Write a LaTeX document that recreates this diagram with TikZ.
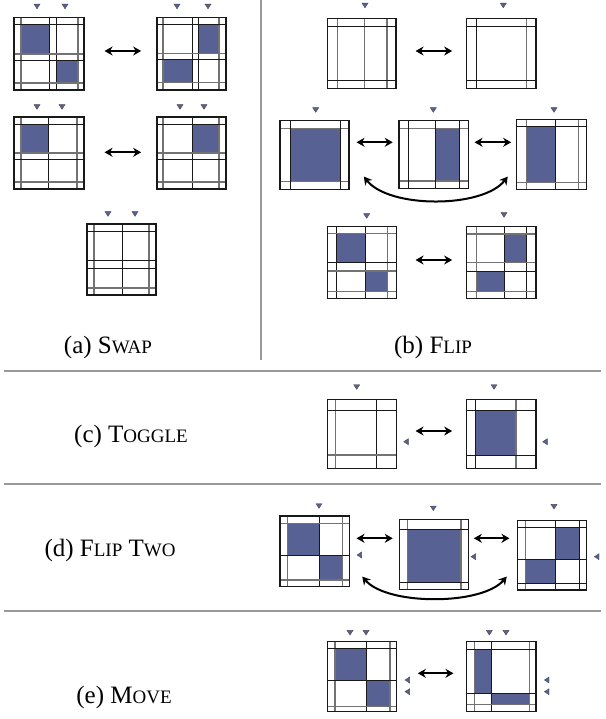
\documentclass[tikz,border=0pt]{standalone}
\usepackage{fontspec}
\setmainfont{Liberation Serif}
\usetikzlibrary{arrows.meta,calc,fit}
\definecolor{cellblue}{RGB}{88,97,148}
\newcommand\fsc[1]{{\fontsize{19}{22}\selectfont #1}}
\newcommand\gv[4]{\foreach \q in {#2} \draw[#1] (\q,#3) -- (\q,#4);}
\newcommand\gh[4]{\foreach \q in {#2} \draw[#1] (#3,\q) -- (#4,\q);}
\newcommand\gfill[4]{\fill[cellf] (#1,#2) rectangle (#3,#4);}
\newcommand\gbox[5]{\node[gframe, fit={(#2,#3) (#4,#5)}] (#1) {};}
\newcommand\tdn[2]{\filldraw[tri] (#1-3,#2-2.3) -- (#1+3,#2-2.3) -- (#1,#2+2.3) -- cycle;}
\newcommand\tlf[2]{\filldraw[tri] (#1-2.3,#2) -- (#1+2.3,#2-3) -- (#1+2.3,#2+3) -- cycle;}
\tikzset{
  gl/.style={draw=black!55, line width=1.4pt},
  bl/.style={draw=black!90, line width=1pt},
  gframe/.style={draw=black!90, line width=1.1pt, inner sep=0pt},
  cellf/.style={fill=cellblue},
  tri/.style={fill=cellblue, draw=black!70, line width=0.4pt},
  dar/.style={{Stealth[length=8pt,width=9pt]}-{Stealth[length=8pt,width=9pt]}, line width=2pt},
  divider/.style={draw=black!40, line width=1.8pt},
  captxt/.style={font=\fontsize{25}{30}\selectfont, inner sep=0pt}
}
\begin{document}
\begin{tikzpicture}[x=1pt,y=-1pt]
\useasboundingbox[fill=white] (0,0) rectangle (605,719);
% dividers
\draw[divider] (261,0) -- (261,360);
\draw[divider] (4,371) -- (601,371);
\draw[divider] (4,484) -- (601,484);
\draw[divider] (4,611) -- (601,611);

% ---------- (a) ----------
% a1
\gfill{21}{24.5}{49.5}{54}\gfill{56}{61}{78}{83}
\gv{gl}{21,78}{17.5}{90}\gv{bl}{49.5,56}{17.5}{90}
\gh{gl}{54,83}{14}{84}\gh{bl}{24.5,61}{14}{84}
\gbox{a1}{14}{17.5}{84}{90}
\tdn{37}{6.5}\tdn{65}{6.5}
% a2
\gfill{198}{24.5}{219}{53.5}\gfill{163}{60}{192}{82.5}
\gv{gl}{163,219}{17.5}{90}\gv{bl}{192,198}{17.5}{90}
\gh{gl}{53.5,82.5}{157}{226}\gh{bl}{24.5,60}{157}{226}
\gbox{a2}{157}{17.5}{226}{90}
\tdn{177}{6.5}\tdn{208}{6.5}
% a3
\gfill{21}{124.5}{48}{153}
\gv{gl}{21,77}{117}{189}\gv{bl}{48}{117}{189}
\gh{gl}{153,182}{14}{84}\gh{bl}{124.5,160}{14}{84}
\gbox{a3}{14}{117}{84}{189}
\tdn{37}{107}\tdn{62}{107}
% a4
\gfill{192}{124.5}{219}{153}
\gv{gl}{163,219}{117}{189}\gv{bl}{192}{117}{189}
\gh{gl}{153,182}{157}{226}\gh{bl}{124.5,160}{157}{226}
\gbox{a4}{157}{117}{226}{189}
\tdn{180}{107}\tdn{204}{107}
% a5
\gv{gl}{94,149}{224}{295}\gv{bl}{122}{224}{295}
\gh{gl}{288}{87}{156}\gh{bl}{231,260,268}{87}{156}
\gbox{a5}{87}{224}{156}{295}
\tdn{108}{214}\tdn{135}{214}

\draw[dar] ($(a1.east)+(20,-2.75)$) -- ($(a2.west)+(-15.3,-2.75)$);
\draw[dar] ($(a3.east)+(20,-0.7)$) -- ($(a4.west)+(-15.3,-0.7)$);

% ---------- (b) ----------
% b1
\gv{gl}{337.3,364.3,387}{18.3}{88.3}
\gh{bl}{26.7,81}{327.7}{396}
\gbox{b1}{327.7}{18.3}{396}{88.3}
\tdn{365}{5.5}
% b2
\gv{gl}{526.7}{18.3}{88.3}\gv{bl}{476.7}{18.3}{88.3}
\gh{bl}{26.7,81}{466.7}{536}
\gbox{b2}{466.7}{18.3}{536}{88.3}
\tdn{503.3}{5.5}
% b3
\gfill{290}{128.3}{340}{181.7}
\gh{gl}{128.3,181.7}{280}{349}
\gv{bl}{290,340}{120.7}{189.3}
\gbox{b3}{280}{120.7}{349}{189.3}
\tdn{315.7}{110}
% b4
\gfill{435.7}{128.3}{459}{181}
\gh{gl}{128.3,181}{399}{468.3}
\gv{bl}{408.3,435.7,459}{120.7}{188.8}
\gbox{b4}{399}{120.7}{468.3}{188.8}
\tdn{433.3}{110}
% b5
\gfill{526.7}{126.5}{555}{182.7}
\gv{gl}{526.7,578.3}{119.3}{189.3}\gv{bl}{555}{119.3}{189.3}
\gh{gl}{182.7}{516.7}{586.7}\gh{bl}{126.5}{516.7}{586.7}
\gbox{b5}{516.7}{119.3}{586.7}{189.3}
\tdn{554}{110}
% b6
\gfill{336.7}{233.5}{365}{262.3}\gfill{365}{271}{387.3}{291.7}
\gv{gl}{387.3}{226.7}{298.3}\gv{bl}{336.7,365}{226.7}{298.3}
\gh{gl}{233.5,271,291.7}{327.3}{396.7}\gh{bl}{262.3}{327.3}{396.7}
\gbox{b6}{327.3}{226.7}{396.7}{298.3}
\tdn{366.7}{216}
% b7
\gfill{504.3}{234}{526.7}{262.3}\gfill{476.7}{271}{504.3}{291.7}
\gv{gl}{476.7}{226.7}{298.3}\gv{bl}{504.3,526.7}{226.7}{298.3}
\gh{gl}{234,262.3,291.7}{466.7}{536}\gh{bl}{271}{466.7}{536}
\gbox{b7}{466.7}{226.7}{536}{298.3}
\tdn{504}{215}

\draw[dar] ($(b1.east)+(19,-2.3)$) -- ($(b2.west)+(-14,-2.3)$);
\draw[dar] ($(b3.east)+(7,-12.7)$) -- ($(b4.west)+(-5.7,-12.45)$);
\draw[dar] ($(b4.east)+(5.7,-12.45)$) -- ($(b5.west)+(-5,-12)$);
\draw[dar] ($(b3.south east)+(14.3,-13.3)$) .. controls ($(b3.south east)+(39.3,18.7)$) and ($(b5.south west)+(-33.4,18.7)$) .. ($(b5.south west)+(-8.4,-13.3)$);
\draw[dar] ($(b6.east)+(18.3,-2.5)$) -- ($(b7.west)+(-14,-2.5)$);

% ---------- (c) ----------
\gv{gl}{335.7}{399.3}{468.3}\gv{bl}{376}{399.3}{468.3}
\gh{gl}{455}{327.3}{396.7}\gh{bl}{410.7}{327.3}{396.7}
\gbox{c1}{327.3}{399.3}{396.7}{468.3}
\tdn{356.7}{387}\tlf{406}{441.7}
\gfill{475.7}{410.7}{516}{455}
\gv{gl}{516}{399.3}{468.3}\gv{bl}{475.7}{399.3}{468.3}
\gh{bl}{410.7,455}{466.7}{536}
\gbox{c2}{466.7}{399.3}{536}{468.3}
\tdn{494}{387}\tlf{545}{441.7}
\draw[dar] ($(c1.east)+(18.3,-2.8)$) -- ($(c2.west)+(-14,-2.8)$);

% ---------- (d) ----------
\gfill{287.3}{523.3}{319}{555}\gfill{319}{555}{342.7}{580}
\gv{gl}{287.3,342.7}{516}{586.7}\gv{bl}{319}{516}{586.7}
\gh{gl}{523.3,580}{280}{349.3}\gh{bl}{555}{280}{349.3}
\gbox{d1}{280}{516}{349.3}{586.7}
\tdn{319}{506}\tlf{359.3}{555}
\gfill{407.7}{529.3}{461}{582.7}
\gv{gl}{407.7,461}{519.3}{589.3}
\gh{bl}{529.3,582.7}{399.3}{468.3}
\gbox{d2}{399.3}{519.3}{468.3}{589.3}
\tdn{433.3}{508.3}\tlf{473.3}{556.7}
\gfill{555.7}{527.7}{579.3}{559}\gfill{525.7}{559}{555.7}{583.3}
\gv{gl}{525.7}{520.7}{590}\gv{bl}{555.7,579.3}{520.7}{590}
\gh{bl}{527.7,559,583.3}{517.7}{586.7}
\gbox{d3}{517.7}{520.7}{586.7}{590}
\tdn{554}{506.7}\tlf{596.7}{556.7}
\draw[dar] ($(d1.east)+(6.7,-13.05)$) -- ($(d2.west)+(-6,-16)$);
\draw[dar] ($(d2.east)+(5,-16)$) -- ($(d3.west)+(-7.7,-17.05)$);
\draw[dar] ($(d1.south east)+(12.4,-10.7)$) .. controls ($(d1.south east)+(37.4,18.3)$) and ($(d3.south west)+(-35.4,15)$) .. ($(d3.south west)+(-10.4,-14)$);

% ---------- (e) ----------
\gfill{335}{648.3}{366}{680.7}\gfill{366}{680.7}{390}{706.7}
\gv{gl}{335,390}{641.7}{711.7}\gv{bl}{366}{641.7}{711.7}
\gh{gl}{706.7}{327.3}{396.7}\gh{bl}{648.3,680.7}{327.3}{396.7}
\gbox{e1}{327.3}{641.7}{396.7}{711.7}
\tdn{350}{632.7}\tdn{366}{632.7}\tlf{407.3}{680}\tlf{407.3}{691.7}
\gfill{474.5}{649.5}{491}{693}\gfill{491}{693}{529.5}{704.5}
\gv{gl}{474.5,529.5}{641.7}{711.7}\gv{bl}{491}{641.7}{711.7}
\gh{gl}{704.5}{466.7}{536}\gh{bl}{649.5,693}{466.7}{536}
\gbox{e2}{466.7}{641.7}{536}{711.7}
\tdn{489.3}{632.7}\tdn{506}{632.7}\tlf{546.7}{680}\tlf{546.7}{691.7}
\draw[dar] ($(e1.east)+(20.6,-3.4)$) -- ($(e2.west)+(-12.7,-3.4)$);

% ---------- captions ----------
\node[captxt] (capa) at (108,347) {(a) S\fsc{WAP}};
\node[captxt] (capb) at (433,347) {(b) F\fsc{LIP}};
\node[captxt] (capc) at (131,436) {(c) T\fsc{OGGLE}};
\node[captxt] (capd) at (110,550) {(d) F\fsc{LIP} T\fsc{WO}};
\node[captxt] (cape) at (124,697) {(e) M\fsc{OVE}};
\end{tikzpicture}
\end{document}
